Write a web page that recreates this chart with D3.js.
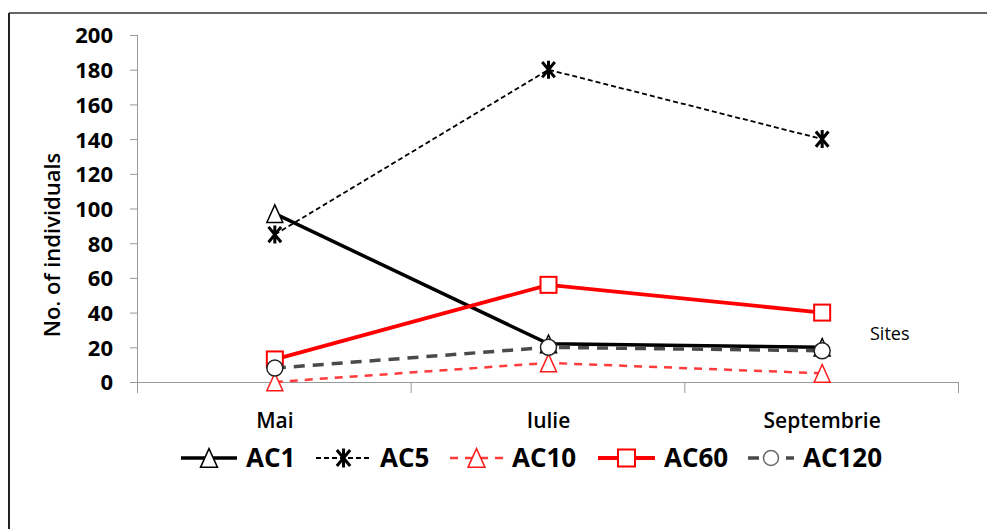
<!DOCTYPE html>
<html><head><meta charset="utf-8">
<script src="https://cdn.jsdelivr.net/npm/d3@7"></script>
<style>body{margin:0;background:#fff}svg{display:block}</style>
</head><body>
<svg id="c" width="987" height="529"></svg>
<script>
const categories = ["Mai", "Iulie", "Septembrie"];
const yTicks = [0, 20, 40, 60, 80, 100, 120, 140, 160, 180, 200];
const seriesNames = ["AC1", "AC5", "AC10", "AC60", "AC120"];
const ac1 = [97, 22, 20];
const ac5 = [85, 180, 140];
const ac10 = [0, 11, 5];
const ac60 = [13, 56, 40];
const ac120 = [8, 20, 18];
const yTitle = "No. of individuals";
const xTitle = "Sites";

const series = [
  {name: seriesNames[0], values: ac1, color: "#000", width: 3.5, dash: null, marker: "triangle", mstroke: "#000"},
  {name: seriesNames[1], values: ac5, color: "#000", width: 1.8, dash: "5,3", marker: "asterisk", mstroke: "#000"},
  {name: seriesNames[2], values: ac10, color: "#ff3b3b", width: 2.5, dash: "8,7", marker: "triangle", mstroke: "#ff1a1a"},
  {name: seriesNames[3], values: ac60, color: "#ff0000", width: 3.8, dash: null, marker: "square", mstroke: "#ff0000"},
  {name: seriesNames[4], values: ac120, color: "#4a4a4a", width: 3.5, dash: "11,8", marker: "circle", mstroke: "#222"}
];

const svg = d3.select("#c");
const font = "'Open Sans', 'Liberation Sans', sans-serif";

// frame
svg.append("line").attr("x1", 9).attr("y1", 13).attr("x2", 9).attr("y2", 529).attr("stroke", "#222").attr("stroke-width", 2);
svg.append("line").attr("x1", 9).attr("y1", 13).attr("x2", 987).attr("y2", 13).attr("stroke", "#333").attr("stroke-width", 1.5);

const x0 = 138, x1 = 959, yTop = 35, yBot = 382;
const xBand = d3.scaleBand().domain(categories).range([x0, x1]).padding(0);
const xc = d => xBand(d) + xBand.bandwidth() / 2;
const y = d3.scaleLinear().domain([0, 200]).range([yBot, yTop]);

// y axis
const yAxis = d3.axisLeft(y).tickValues(yTicks).tickSize(8).tickSizeOuter(0).tickPadding(17);
const gy = svg.append("g").attr("transform", `translate(${x0},0)`).call(yAxis);
gy.select(".domain").attr("stroke", "#999").attr("d", `M-0.5,${yTop}V${yBot + 11}`);
gy.selectAll(".tick line").attr("stroke", "#999");
gy.selectAll(".tick text").attr("font-family", font).attr("font-size", 22).attr("font-weight", "bold").attr("fill", "#000").attr("dy", "0.36em");

// x axis
const gx = svg.append("g");
gx.append("line").attr("x1", x0).attr("x2", x1).attr("y1", yBot + 0.5).attr("y2", yBot + 0.5).attr("stroke", "#999");
const bounds = categories.map(c => xBand(c)).concat([x1]);
gx.selectAll("line.b").data(bounds.slice(1)).enter().append("line")
  .attr("x1", d => d - 0.5).attr("x2", d => d - 0.5).attr("y1", yBot).attr("y2", yBot + 11).attr("stroke", "#999");
gx.selectAll("text").data(categories).enter().append("text")
  .attr("x", d => xc(d)).attr("y", 428).attr("text-anchor", "middle")
  .attr("font-family", font).attr("font-size", 21).attr("font-weight", 600).attr("fill", "#000").text(d => d);

// titles
svg.append("text").attr("transform", `translate(60,245) rotate(-90)`).attr("text-anchor", "middle")
  .attr("font-family", font).attr("font-size", 22).attr("font-weight", 600).attr("fill", "#000").text(yTitle);
svg.append("text").attr("x", 870).attr("y", 340).attr("font-family", font).attr("font-size", 18).attr("fill", "#000").text(xTitle);

function drawMarker(g, type, cx, cy, stroke, s) {
  if (type === "triangle") {
    const h = s * 1.1, w = s;
    g.append("path").attr("d", `M${cx},${cy - h / 2}L${cx + w / 2},${cy + h / 2}L${cx - w / 2},${cy + h / 2}Z`)
      .attr("fill", "#fff").attr("stroke", stroke).attr("stroke-width", 1.5);
  } else if (type === "square") {
    g.append("rect").attr("x", cx - s / 2).attr("y", cy - s / 2).attr("width", s).attr("height", s)
      .attr("fill", "#fff").attr("stroke", stroke).attr("stroke-width", 2);
  } else if (type === "circle") {
    g.append("circle").attr("cx", cx).attr("cy", cy).attr("r", s / 2)
      .attr("fill", "#fff").attr("stroke", stroke).attr("stroke-width", 1.5);
  } else if (type === "asterisk") {
    const r = s / 2 + 1, dx = r * 0.7;
    g.append("path").attr("d", `M${cx},${cy - r}V${cy + r}M${cx - dx},${cy - r * 0.85}L${cx + dx},${cy + r * 0.85}M${cx - dx},${cy + r * 0.85}L${cx + dx},${cy - r * 0.85}`)
      .attr("stroke", stroke).attr("stroke-width", 3).attr("fill", "none");
  }
}

const line = d3.line().x((d, i) => xc(categories[i])).y(d => y(d));
series.forEach(s => {
  const g = svg.append("g");
  g.append("path").datum(s.values).attr("d", line).attr("fill", "none")
    .attr("stroke", s.color).attr("stroke-width", s.width).attr("stroke-dasharray", s.dash);
  s.values.forEach((v, i) => drawMarker(g, s.marker, xc(categories[i]), y(v), s.mstroke, 16));
});

// legend
const legendX = [181, 316, 450, 598, 748];
const legendLen = [56, 55, 53, 57, 46];
const ly = 458;
series.forEach((s, i) => {
  const g = svg.append("g");
  const lx = legendX[i], len = legendLen[i];
  g.append("line").attr("x1", lx).attr("x2", lx + len).attr("y1", ly).attr("y2", ly)
    .attr("stroke", s.color).attr("stroke-width", s.width).attr("stroke-dasharray", s.dash);
  const mstroke = s.marker === "circle" ? "#666" : s.mstroke;
  drawMarker(g, s.marker, lx + len / 2, ly, mstroke, s.marker === "circle" ? 15 : 17);
  g.append("text").attr("x", lx + len + 9).attr("y", 467).attr("font-family", font).attr("font-size", 26)
    .attr("font-weight", "bold").attr("fill", "#000").text(s.name);
});
</script>
</body></html>
